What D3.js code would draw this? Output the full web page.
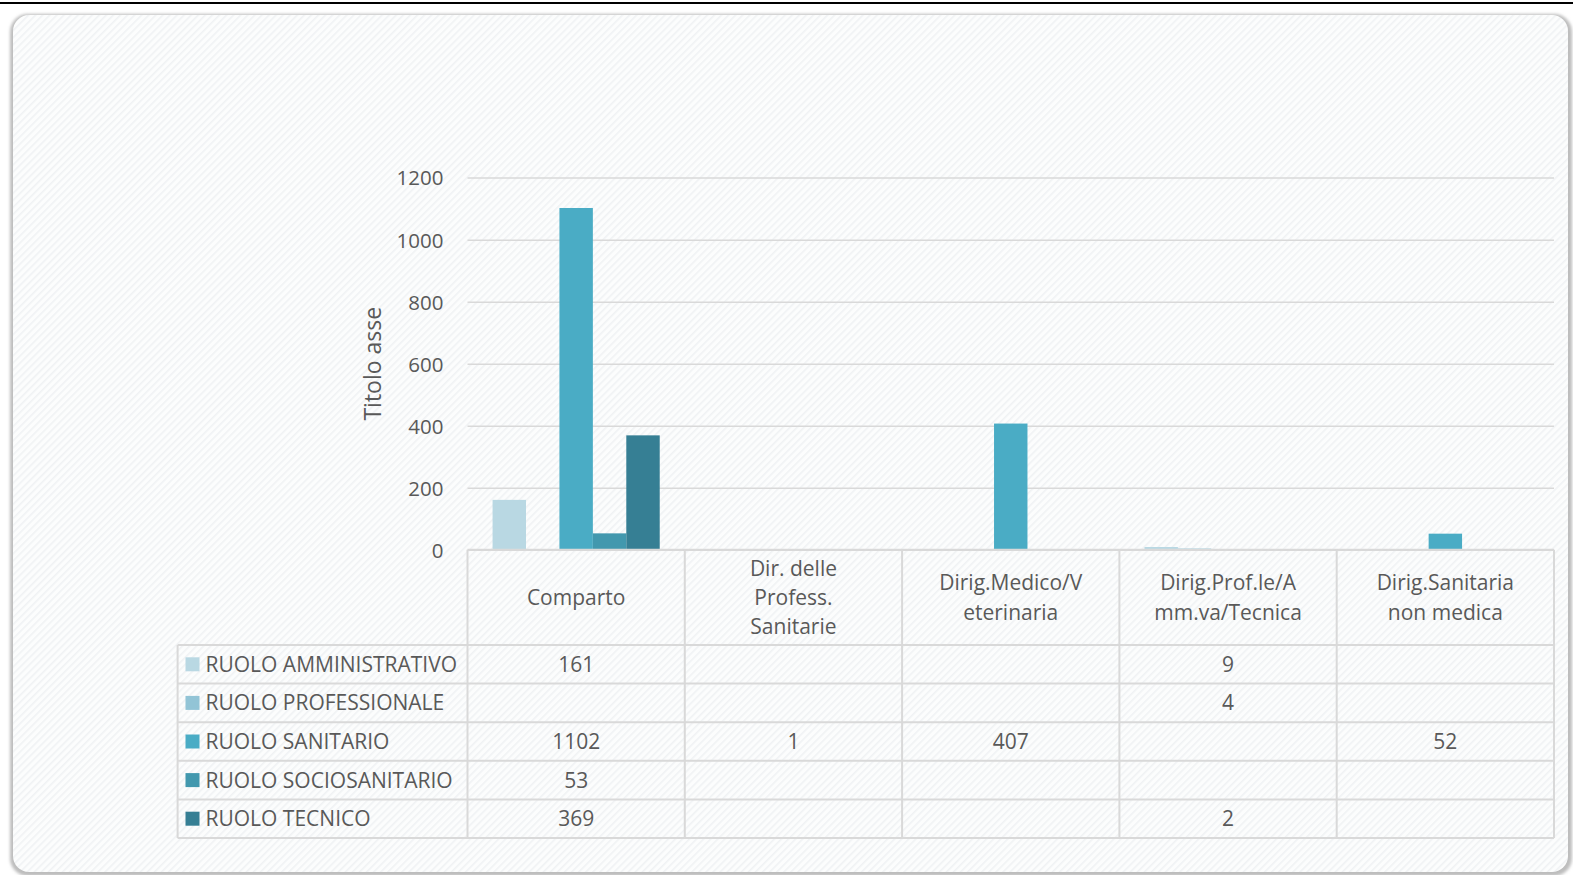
<!DOCTYPE html>
<html>
<head>
<meta charset="utf-8">
<script src="https://cdn.jsdelivr.net/npm/d3@7"></script>
<style>
  html, body { margin: 0; padding: 0; background: #ffffff; }
  svg { display: block; }
  text { font-family: "Open Sans", "Noto Sans", sans-serif; fill: #595959; }
</style>
</head>
<body>
<svg id="chart" width="1573" height="875"></svg>
<script>
// Categories (columns of the data table)
const categories = [
  ["Comparto"],
  ["Dir. delle", "Profess.", "Sanitarie"],
  ["Dirig.Medico/V", "eterinaria"],
  ["Dirig.Prof.le/A", "mm.va/Tecnica"],
  ["Dirig.Sanitaria", "non medica"]
];
const categoryKeys = ["Comparto", "Dir. delle Profess. Sanitarie", "Dirig.Medico/Veterinaria", "Dirig.Prof.le/Amm.va/Tecnica", "Dirig.Sanitaria non medica"];

// Series (rows of the data table); null = empty cell
const seriesNames = ["RUOLO AMMINISTRATIVO", "RUOLO PROFESSIONALE", "RUOLO SANITARIO", "RUOLO SOCIOSANITARIO", "RUOLO TECNICO"];
const ruoloAmministrativo = [161, null, null, 9, null];
const ruoloProfessionale  = [null, null, null, 4, null];
const ruoloSanitario      = [1102, 1, 407, null, 52];
const ruoloSociosanitario = [53, null, null, null, null];
const ruoloTecnico        = [369, null, null, 2, null];
const seriesValues = [ruoloAmministrativo, ruoloProfessionale, ruoloSanitario, ruoloSociosanitario, ruoloTecnico];
const seriesColors = ["#b9d8e3", "#92c4d6", "#4aacc5", "#4298ae", "#367f94"];

const yTicks = [0, 200, 400, 600, 800, 1000, 1200];
const axisTitle = "Titolo asse";

const svg = d3.select("#chart");
const defs = svg.append("defs");

// faint diagonal texture of the card
const pat = defs.append("pattern")
  .attr("id", "hatch").attr("width", 5).attr("height", 5)
  .attr("patternUnits", "userSpaceOnUse")
  .attr("patternTransform", "rotate(-45)");
pat.append("rect").attr("width", 5).attr("height", 5).attr("fill", "#fcfdfd");
pat.append("rect").attr("width", 5).attr("height", 1.6).attr("fill", "#f0f2f4");

const blur = defs.append("filter").attr("id", "soft").attr("x", "-5%").attr("y", "-5%").attr("width", "110%").attr("height", "110%");
blur.append("feGaussianBlur").attr("stdDeviation", 1.6);

// top rule
svg.append("rect").attr("x", 0).attr("y", 2).attr("width", 1573).attr("height", 2).attr("fill", "#000");

// card with shadow
svg.append("rect")
  .attr("x", 10).attr("y", 14).attr("width", 1562).attr("height", 862)
  .attr("rx", 18).attr("fill", "#bdbdbd").attr("filter", "url(#soft)");
svg.append("rect")
  .attr("x", 13).attr("y", 15).attr("width", 1555).attr("height", 857)
  .attr("rx", 16).attr("fill", "url(#hatch)");

// scales
const plotLeft = 467.5, plotRight = 1554, plotTop = 177.6, plotBottom = 549.8;
const x0 = d3.scaleBand().domain(categoryKeys).range([plotLeft, plotRight]).paddingInner(0).paddingOuter(0);
const groupPad = x0.bandwidth() * 0.1154;
const x1 = d3.scaleBand().domain(seriesNames).range([groupPad, x0.bandwidth() - groupPad]).padding(0);
const y = d3.scaleLinear().domain([0, 1200]).range([plotBottom, plotTop]);

// gridlines
const yAxis = d3.axisLeft(y).tickValues(yTicks).tickSize(-(plotRight - plotLeft)).tickPadding(24).tickFormat(d3.format("d"));
const ga = svg.append("g").attr("transform", `translate(${plotLeft},0)`).call(yAxis);
ga.select(".domain").remove();
ga.selectAll(".tick line").attr("stroke", "#d9d9d9").attr("stroke-width", 1.5);
ga.selectAll(".tick text").attr("font-size", 20.5).attr("fill", "#595959").attr("dy", "0.36em");

// axis title
svg.append("text")
  .attr("transform", `translate(381,${(plotTop + plotBottom) / 2}) rotate(-90)`)
  .attr("text-anchor", "middle").attr("font-size", 23).text(axisTitle);

// bars
seriesNames.forEach((name, si) => {
  const rows = categoryKeys.map((c, ci) => ({ c, v: seriesValues[si][ci] })).filter(d => d.v !== null);
  svg.append("g").selectAll("rect").data(rows).join("rect")
    .attr("x", d => x0(d.c) + x1(name))
    .attr("y", d => y(d.v))
    .attr("width", x1.bandwidth())
    .attr("height", d => y(0) - y(d.v))
    .attr("fill", seriesColors[si]);
});

// data table
const headerBottom = 645, rowH = 38.6;
const tableLeft = 177.6;
const tableBottom = headerBottom + rowH * seriesNames.length;
const lineColor = "#d9d9d9";
const tg = svg.append("g");

tg.append("line").attr("x1", plotLeft).attr("x2", plotRight).attr("y1", plotBottom).attr("y2", plotBottom)
  .attr("stroke", lineColor).attr("stroke-width", 2);
for (let r = 0; r <= seriesNames.length; r++) {
  const yy = headerBottom + r * rowH;
  tg.append("line").attr("x1", tableLeft).attr("x2", plotRight).attr("y1", yy).attr("y2", yy)
    .attr("stroke", lineColor).attr("stroke-width", 2);
}
tg.append("line").attr("x1", tableLeft).attr("x2", tableLeft).attr("y1", headerBottom).attr("y2", tableBottom)
  .attr("stroke", lineColor).attr("stroke-width", 2);
categoryKeys.forEach(c => {
  tg.append("line").attr("x1", x0(c)).attr("x2", x0(c)).attr("y1", plotBottom).attr("y2", tableBottom)
    .attr("stroke", lineColor).attr("stroke-width", 2);
});
tg.append("line").attr("x1", plotRight).attr("x2", plotRight).attr("y1", plotBottom).attr("y2", tableBottom)
  .attr("stroke", lineColor).attr("stroke-width", 2);

// header labels
const lineStep = 29.3;
categories.forEach((lines, ci) => {
  const cx = x0(categoryKeys[ci]) + x0.bandwidth() / 2;
  const cy = (plotBottom + headerBottom) / 2;
  lines.forEach((t, li) => {
    tg.append("text").attr("x", cx).attr("y", cy + (li - (lines.length - 1) / 2) * lineStep)
      .attr("dy", "0.36em").attr("text-anchor", "middle").attr("font-size", 21).text(t);
  });
});

// legend column and values
seriesNames.forEach((name, si) => {
  const cy = headerBottom + rowH * si + rowH / 2;
  tg.append("rect").attr("x", 185.5).attr("y", cy - 7).attr("width", 14).attr("height", 14).attr("fill", seriesColors[si]);
  tg.append("text").attr("x", 205.5).attr("y", cy).attr("dy", "0.36em").attr("font-size", 21).text(name);
  categoryKeys.forEach((c, ci) => {
    const v = seriesValues[si][ci];
    if (v === null) return;
    tg.append("text").attr("x", x0(c) + x0.bandwidth() / 2).attr("y", cy).attr("dy", "0.36em")
      .attr("text-anchor", "middle").attr("font-size", 21).text(v);
  });
});
</script>
</body>
</html>
